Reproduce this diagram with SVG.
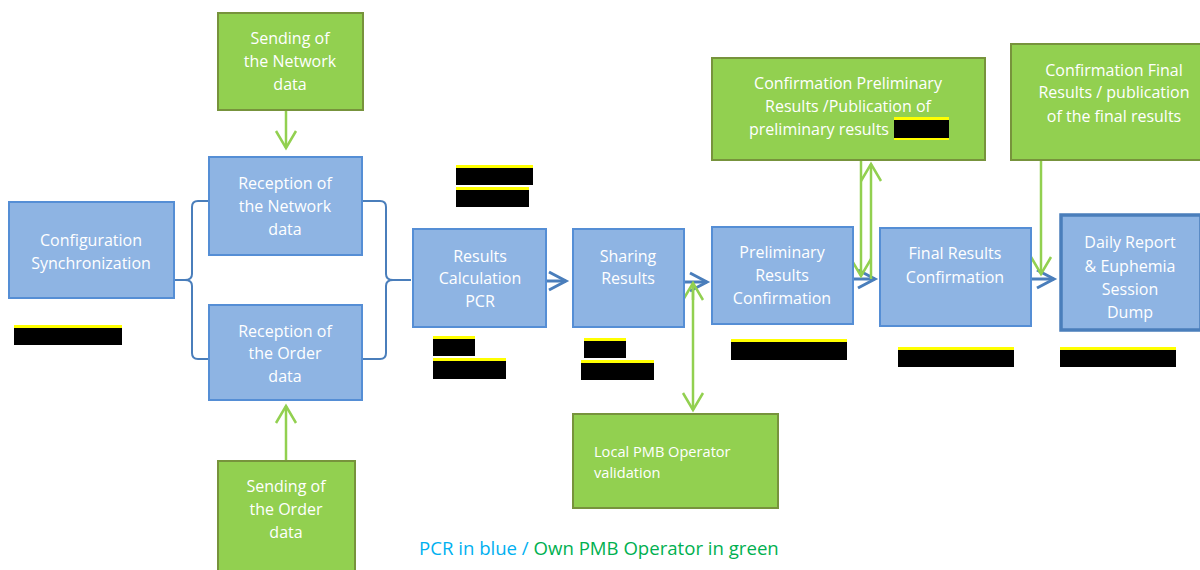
<svg xmlns="http://www.w3.org/2000/svg" width="1200" height="570" viewBox="0 0 1200 570">
<defs>
<style>
.b{fill:#8EB4E3;stroke:#558ED5;stroke-width:2}
.bt{fill:#8EB4E3;stroke:#4A7EBB;stroke-width:3.5}
.g{fill:#92D050;stroke:#77933C;stroke-width:2}
.t{font-family:"Open Sans","Liberation Sans",sans-serif;font-size:16px;fill:#FFFFFF;text-anchor:middle}
.tl{font-family:"Open Sans","Liberation Sans",sans-serif;font-size:14.6px;fill:#FFFFFF}
.cb{fill:none;stroke:#4A7EBB;stroke-width:3}
.cg{fill:none;stroke:#92D050;stroke-width:2.5}
.br{fill:none;stroke:#4A7EBB;stroke-width:2}
.y{fill:#FFFF00}
.k{fill:#000000}
</style>
<marker id="ab" markerUnits="userSpaceOnUse" markerWidth="30" markerHeight="30" viewBox="-22 -15 30 30" refX="0" refY="0" orient="auto" overflow="visible"><path d="M-17,-9 L0,0 L-17,9" fill="none" stroke="#4A7EBB" stroke-width="3"/></marker>
<marker id="ag" markerUnits="userSpaceOnUse" markerWidth="30" markerHeight="30" viewBox="-22 -15 30 30" refX="0" refY="0" orient="auto" overflow="visible"><path d="M-17,-10 L0,0 L-17,10" fill="none" stroke="#92D050" stroke-width="2.5"/></marker>
</defs>
<rect width="1200" height="570" fill="#FFFFFF"/>

<g id="connectors">
<path class="br" d="M209,201 H198 Q192,201 192,207 V274 Q192,280 185,280 H174 M185,280 Q192,280 192,286 V353 Q192,359 198,359 H209"/>
<path class="br" d="M362,201 H380 Q386,201 386,207 V274 Q386,280 393,280 H411 M393,280 Q386,280 386,286 V353 Q386,359 380,359 H362"/>
<path class="cb" d="M546,281 H566" marker-end="url(#ab)"/>
<path class="cb" d="M684,282 H707" marker-end="url(#ab)"/>
<path class="cb" d="M853,279 H875" marker-end="url(#ab)"/>
<path class="cb" d="M1031,279 H1054" marker-end="url(#ab)"/>
<path class="cg" d="M286,111 V148" marker-end="url(#ag)"/>
<path class="cg" d="M286,461 V406" marker-end="url(#ag)"/>
<path class="cg" d="M693,300 V283" marker-end="url(#ag)"/>
<path class="cg" d="M693,283 V410" marker-end="url(#ag)"/>
<path class="cg" d="M861,161 V276" marker-end="url(#ag)"/>
<path class="cg" d="M871,279 V164" marker-end="url(#ag)"/>
<path class="cg" d="M1041,161 V274" marker-end="url(#ag)"/>
</g>

<g id="config">
<rect class="b" x="9" y="202" width="165" height="96"/>
<text class="t" x="91" y="246">Configuration</text>
<text class="t" x="91" y="269">Synchronization</text>
<rect class="y" x="14" y="325" width="108" height="4"/><rect class="k" x="14" y="328" width="108" height="17"/>
</g>

<g id="sendNetwork">
<rect class="g" x="218" y="13" width="145" height="97"/>
<text class="t" x="290" y="44">Sending of</text>
<text class="t" x="290" y="67">the Network</text>
<text class="t" x="290" y="90">data</text>
</g>

<g id="recNetwork">
<rect class="b" x="209" y="157" width="153" height="98"/>
<text class="t" x="285" y="189">Reception of</text>
<text class="t" x="285" y="212">the Network</text>
<text class="t" x="285" y="235">data</text>
</g>

<g id="recOrder">
<rect class="b" x="209" y="305" width="153" height="95"/>
<text class="t" x="285" y="337">Reception of</text>
<text class="t" x="285" y="359">the Order</text>
<text class="t" x="285" y="382">data</text>
</g>

<g id="sendOrder">
<rect class="g" x="218" y="461" width="137" height="120"/>
<text class="t" x="286" y="492">Sending of</text>
<text class="t" x="286" y="515">the Order</text>
<text class="t" x="286" y="538">data</text>
</g>

<g id="resultsCalc">
<rect class="b" x="413" y="229" width="133" height="98"/>
<text class="t" x="480" y="262">Results</text>
<text class="t" x="480" y="284">Calculation</text>
<text class="t" x="480" y="307">PCR</text>
<rect class="y" x="456" y="165" width="77" height="4"/><rect class="k" x="456" y="168" width="77" height="17"/>
<rect class="y" x="456" y="187" width="73" height="4"/><rect class="k" x="456" y="190" width="73" height="17"/>
<rect class="y" x="433" y="336" width="42" height="4"/><rect class="k" x="433" y="339" width="42" height="17"/>
<rect class="y" x="433" y="358" width="73" height="4"/><rect class="k" x="433" y="361" width="73" height="18"/>
</g>

<g id="sharing">
<rect class="b" x="573" y="229" width="111" height="98"/>
<text class="t" x="628" y="262">Sharing</text>
<text class="t" x="628" y="284">Results</text>
<rect class="y" x="584" y="338" width="42" height="4"/><rect class="k" x="584" y="341" width="42" height="17"/>
<rect class="y" x="581" y="360" width="73" height="4"/><rect class="k" x="581" y="363" width="73" height="17"/>
</g>

<g id="localPMB">
<rect class="g" x="573" y="414" width="205" height="94"/>
<text class="tl" x="594" y="457">Local PMB Operator</text>
<text class="tl" x="594" y="478">validation</text>
</g>

<g id="prelim">
<rect class="b" x="712" y="227" width="141" height="97"/>
<text class="t" x="782" y="258">Preliminary</text>
<text class="t" x="782" y="281">Results</text>
<text class="t" x="782" y="304">Confirmation</text>
<rect class="y" x="731" y="339" width="116" height="4"/><rect class="k" x="731" y="342" width="116" height="18"/>
</g>

<g id="confPrelim">
<rect class="g" x="712" y="58" width="273" height="102"/>
<text class="t" x="848" y="89">Confirmation Preliminary</text>
<text class="t" x="848" y="112">Results /Publication of</text>
<text class="t" x="749" y="135" style="text-anchor:start">preliminary results</text>
<rect class="y" x="894" y="117" width="55" height="23"/><rect class="k" x="894" y="120" width="55" height="18"/>
</g>

<g id="final">
<rect class="b" x="880" y="228" width="151" height="98"/>
<text class="t" x="955" y="259">Final Results</text>
<text class="t" x="955" y="283">Confirmation</text>
<rect class="y" x="898" y="347" width="116" height="4"/><rect class="k" x="898" y="350" width="116" height="17"/>
</g>

<g id="confFinal">
<rect class="g" x="1011" y="44" width="200" height="116"/>
<text class="t" x="1114" y="76">Confirmation Final</text>
<text class="t" x="1114" y="98">Results / publication</text>
<text class="t" x="1114" y="122">of the final results</text>
</g>

<g id="daily">
<rect class="bt" x="1061" y="215" width="140" height="115"/>
<text class="t" x="1130" y="248">Daily Report</text>
<text class="t" x="1130" y="272">&amp; Euphemia</text>
<text class="t" x="1130" y="295">Session</text>
<text class="t" x="1130" y="318">Dump</text>
<rect class="y" x="1060" y="347" width="116" height="4"/><rect class="k" x="1060" y="350" width="116" height="17"/>
</g>

<g id="legend">
<text x="419" y="555" style="font-family:'Open Sans','Liberation Sans',sans-serif;font-size:18.6px"><tspan fill="#00B0F0">PCR in blue / </tspan><tspan fill="#00B050">Own PMB Operator in green</tspan></text>
</g>
</svg>
